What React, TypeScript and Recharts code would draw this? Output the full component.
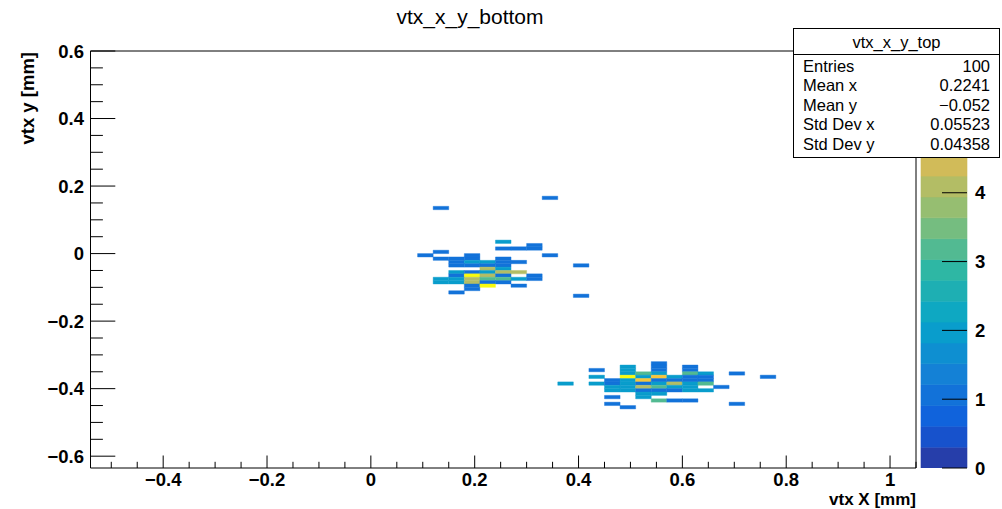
import React from 'react';
import { ScatterChart, Scatter, XAxis, YAxis, ReferenceArea, BarChart, Bar } from 'recharts';

const FONT = '"Liberation Sans", Arial, Helvetica, sans-serif';
const LABEL_SIZE = 18.5;

// histogram binning (mm)
const X_BIN = 0.03;
const Y_BIN = 0.01;
const X_RANGE: [number, number] = [-0.54, 1.05];
const Y_RANGE: [number, number] = [-0.635, 0.6];

// colour scale: 20 contour levels, counts 0..6
const Z_LEVELS = 20;
const Z_TOP_COUNT = 6;
const Z_MAX = 6.06;
const Z_TICKS = [0, 1, 2, 3, 4];

// [x low edge, y low edge, entries]
const bottomCells: [number, number, number][] = [
  [0.36, -0.39, 2],
  [0.42, -0.35, 1], [0.42, -0.37, 2], [0.42, -0.39, 2],
  [0.45, -0.38, 1], [0.45, -0.39, 1], [0.45, -0.40, 2], [0.45, -0.41, 2], [0.45, -0.43, 1], [0.45, -0.45, 1],
  [0.48, -0.34, 2], [0.48, -0.35, 2], [0.48, -0.36, 2], [0.48, -0.37, 6], [0.48, -0.38, 2], [0.48, -0.39, 2],
  [0.48, -0.40, 2], [0.48, -0.41, 2], [0.48, -0.46, 1],
  [0.51, -0.36, 3], [0.51, -0.37, 2], [0.51, -0.38, 5], [0.51, -0.39, 1], [0.51, -0.40, 4], [0.51, -0.41, 1],
  [0.51, -0.42, 2], [0.51, -0.43, 2],
  [0.54, -0.33, 1], [0.54, -0.34, 1], [0.54, -0.35, 1], [0.54, -0.36, 2], [0.54, -0.37, 5], [0.54, -0.38, 1],
  [0.54, -0.39, 2], [0.54, -0.40, 3], [0.54, -0.41, 1], [0.54, -0.42, 2], [0.54, -0.44, 3],
  [0.57, -0.37, 2], [0.57, -0.38, 1], [0.57, -0.39, 4], [0.57, -0.40, 2], [0.57, -0.41, 1], [0.57, -0.44, 1],
  [0.60, -0.34, 1], [0.60, -0.35, 1], [0.60, -0.36, 3], [0.60, -0.37, 1], [0.60, -0.38, 1], [0.60, -0.39, 2],
  [0.60, -0.40, 2], [0.60, -0.41, 2], [0.60, -0.44, 1],
  [0.63, -0.36, 2], [0.63, -0.37, 1], [0.63, -0.38, 1], [0.63, -0.39, 3], [0.63, -0.41, 2],
  [0.66, -0.40, 1],
  [0.69, -0.36, 1], [0.69, -0.45, 1],
  [0.75, -0.37, 1],
];

const topCells: [number, number, number][] = [
  [0.12, 0.13, 1], [0.33, 0.16, 1],
  [0.24, 0.03, 2],
  [0.30, 0.02, 1],
  [0.24, 0.01, 1], [0.27, 0.01, 1], [0.30, 0.01, 1],
  [0.12, 0.00, 1],
  [0.09, -0.01, 1], [0.18, -0.01, 1], [0.33, -0.01, 1],
  [0.12, -0.02, 1], [0.15, -0.02, 1], [0.18, -0.02, 1], [0.24, -0.02, 1],
  [0.15, -0.03, 1], [0.18, -0.03, 2], [0.21, -0.03, 2], [0.24, -0.03, 1], [0.27, -0.03, 1],
  [0.15, -0.04, 1], [0.18, -0.04, 1], [0.21, -0.04, 1], [0.24, -0.04, 1], [0.39, -0.04, 1],
  [0.21, -0.05, 4], [0.24, -0.05, 2],
  [0.15, -0.06, 2], [0.18, -0.06, 1], [0.21, -0.06, 2], [0.24, -0.06, 4], [0.27, -0.06, 4],
  [0.15, -0.07, 1], [0.18, -0.07, 6], [0.21, -0.07, 4], [0.24, -0.07, 1], [0.30, -0.07, 1],
  [0.12, -0.08, 2], [0.15, -0.08, 2], [0.18, -0.08, 4], [0.21, -0.08, 3], [0.24, -0.08, 3], [0.27, -0.08, 2],
  [0.30, -0.08, 1],
  [0.12, -0.09, 2], [0.15, -0.09, 2], [0.18, -0.09, 4], [0.21, -0.09, 1], [0.24, -0.09, 1],
  [0.18, -0.10, 1], [0.21, -0.10, 6], [0.27, -0.10, 1],
  [0.18, -0.11, 1],
  [0.15, -0.12, 1], [0.39, -0.13, 1],
];

const statsTitle = 'vtx_x_y_top';
const statsRows: [string, string][] = [
  ['Entries', '100'],
  ['Mean x', '0.2241'],
  ['Mean y', '\u22120.052'],
  ['Std Dev x', '0.05523'],
  ['Std Dev y', '0.04358'],
];

const stepTicks = (from: number, to: number, step: number) => {
  const out: number[] = [];
  const n = Math.round((to - from) / step);
  for (let i = 0; i <= n; i++) out.push(Math.round((from + i * step) * 1000) / 1000);
  return out;
};
const X_TICKS = stepTicks(-0.5, 1.05, 0.05);
const Y_TICKS = stepTicks(-0.6, 0.6, 0.05);

// ROOT kBird palette
const BIRD_STOPS = [0.0, 0.125, 0.25, 0.375, 0.5, 0.625, 0.75, 0.875, 1.0];
const BIRD_R = [0.2082, 0.0592, 0.078, 0.0232, 0.1802, 0.5301, 0.8186, 0.9956, 0.9764];
const BIRD_G = [0.1664, 0.3599, 0.5041, 0.6419, 0.7178, 0.7492, 0.7328, 0.7862, 0.9832];
const BIRD_B = [0.5293, 0.8684, 0.8385, 0.7914, 0.6425, 0.4662, 0.3499, 0.1968, 0.0539];

function bird(f: number) {
  const t = Math.max(0, Math.min(1, f));
  let i = 0;
  while (i < BIRD_STOPS.length - 2 && t > BIRD_STOPS[i + 1]) i++;
  const u = (t - BIRD_STOPS[i]) / (BIRD_STOPS[i + 1] - BIRD_STOPS[i]);
  const c = (a: number[]) => Math.round(255 * (a[i] + (a[i + 1] - a[i]) * u));
  return `rgb(${c(BIRD_R)},${c(BIRD_G)},${c(BIRD_B)})`;
}
const levelColor = (level: number) => bird((level + 1) / Z_LEVELS);
const cellColor = (n: number) =>
  levelColor(Math.min(Z_LEVELS - 1, Math.floor((n * Z_LEVELS) / Z_TOP_COUNT + 1e-9)));

const allCells = [...bottomCells, ...topCells];
const centers = allCells.map(([x, y, n]) => ({ x: x + X_BIN / 2, y: y + Y_BIN / 2, n }));

const zRow: Record<string, number | string> = { name: 'z' };
for (let i = 0; i < Z_LEVELS; i++) zRow[`b${i}`] = Z_MAX / Z_LEVELS;
const zData = [zRow];

const isMajor = (v: number) => Math.abs(v / 0.2 - Math.round(v / 0.2)) < 1e-6;
const fmt = (v: number) => {
  const r = Math.round(v * 10) / 10;
  return (r === 0 ? '0' : String(r)).replace('-', '\u2212');
};

const XTick = (props: any) => {
  const { x, y, payload } = props;
  const major = isMajor(payload.value);
  return (
    <g>
      <line x1={x} x2={x} y1={y} y2={y - (major ? 12.5 : 6.2)} stroke="#000" strokeWidth={1} />
      {major && (
        <text x={x} y={y + 17.5} textAnchor="middle" fontSize={LABEL_SIZE} fontWeight="bold" fontFamily={FONT} fill="#000">
          {fmt(payload.value)}
        </text>
      )}
    </g>
  );
};

const YTick = (props: any) => {
  const { x, y, payload } = props;
  const major = isMajor(payload.value);
  return (
    <g>
      <line x1={x} x2={x + (major ? 24.8 : 12.4)} y1={y} y2={y} stroke="#000" strokeWidth={1} />
      {major && (
        <text x={x - 6.5} y={y + 6.5} textAnchor="end" fontSize={LABEL_SIZE} fontWeight="bold" fontFamily={FONT} fill="#000">
          {fmt(payload.value)}
        </text>
      )}
    </g>
  );
};

const ZTick = (props: any) => {
  const { x, y, payload } = props;
  return (
    <g>
      <line x1={x - 25} x2={x} y1={y} y2={y} stroke="#000" strokeWidth={1} />
      <text x={x + 8} y={y + 6.5} textAnchor="start" fontSize={LABEL_SIZE} fontWeight="bold" fontFamily={FONT} fill="#000">
        {payload.value}
      </text>
    </g>
  );
};

export default function App() {
  return (
    <div style={{ position: 'absolute', left: 0, top: 0, width: 1002, height: 509, background: '#fff' }}>
      <div style={{ position: 'absolute', left: 0, top: 0 }}>
        <ScatterChart width={1002} height={509} margin={{ top: 51, right: 86, bottom: 0, left: 0 }}>
          <XAxis
            type="number"
            dataKey="x"
            domain={X_RANGE}
            ticks={X_TICKS}
            interval={0}
            allowDataOverflow
            height={41}
            axisLine={false}
            tickLine={false}
            tickSize={0}
            tickMargin={0}
            tick={(p: any) => <XTick {...p} />}
          />
          <YAxis
            type="number"
            dataKey="y"
            domain={Y_RANGE}
            ticks={Y_TICKS}
            interval={0}
            allowDataOverflow
            width={90.5}
            axisLine={false}
            tickLine={false}
            tickSize={0}
            tickMargin={0}
            tick={(p: any) => <YTick {...p} />}
          />
          {allCells.map(([x, y, n], i) => (
            <ReferenceArea
              key={i}
              x1={x}
              x2={x + X_BIN}
              y1={y}
              y2={y + Y_BIN}
              fill={cellColor(n)}
              fillOpacity={1}
              stroke={cellColor(n)}
              strokeWidth={0.4}
              ifOverflow="visible"
            />
          ))}
          <ReferenceArea
            x1={X_RANGE[0]}
            x2={X_RANGE[1]}
            y1={Y_RANGE[0]}
            y2={Y_RANGE[1]}
            fill="none"
            fillOpacity={0}
            stroke="#000"
            strokeWidth={1}
            ifOverflow="visible"
          />
          <Scatter data={centers} isAnimationActive={false} shape={() => <g />} />
        </ScatterChart>
      </div>

      <div style={{ position: 'absolute', left: 900, top: 0 }}>
        <BarChart
          width={102}
          height={509}
          data={zData}
          margin={{ top: 51, right: 0, bottom: 41, left: 21 }}
          barCategoryGap={0}
          barGap={0}
        >
          <XAxis dataKey="name" hide />
          <YAxis
            orientation="right"
            type="number"
            domain={[0, Z_MAX]}
            allowDataOverflow
            ticks={Z_TICKS}
            interval={0}
            width={35}
            axisLine={false}
            tickLine={false}
            tickSize={0}
            tickMargin={0}
            tick={(p: any) => <ZTick {...p} />}
          />
          {Array.from({ length: Z_LEVELS }, (_, i) => (
            <Bar
              key={i}
              dataKey={`b${i}`}
              stackId="z"
              fill={levelColor(i)}
              stroke={levelColor(i)}
              strokeWidth={0.6}
              isAnimationActive={false}
            />
          ))}
        </BarChart>
      </div>

      <svg width={1002} height={509} style={{ position: 'absolute', left: 0, top: 0, pointerEvents: 'none' }}>
        <text x={470} y={24} textAnchor="middle" fontSize={21} fontFamily={FONT} fill="#000">
          vtx_x_y_bottom
        </text>
        <text x={916} y={505} textAnchor="end" fontSize={17} fontWeight="bold" fontFamily={FONT} fill="#000">
          vtx X [mm]
        </text>
        <text
          x={34}
          y={52}
          transform="rotate(-90 34 52)"
          textAnchor="end"
          fontSize={LABEL_SIZE}
          fontWeight="bold"
          fontFamily={FONT}
          fill="#000"
        >
          vtx y [mm]
        </text>

        <rect x={793.5} y={28.5} width={206} height={129} fill="#fff" stroke="#000" strokeWidth={1} />
        <line x1={793.5} x2={999.5} y1={54.5} y2={54.5} stroke="#000" strokeWidth={1} />
        <text x={896.5} y={48} textAnchor="middle" fontSize={16.5} fontFamily={FONT} fill="#000">
          {statsTitle}
        </text>
        {statsRows.map(([label, value], i) => (
          <g key={label}>
            <text x={803} y={72 + i * 19.4} fontSize={16.5} fontFamily={FONT} fill="#000">
              {label}
            </text>
            <text x={990} y={72 + i * 19.4} textAnchor="end" fontSize={16.5} fontFamily={FONT} fill="#000">
              {value}
            </text>
          </g>
        ))}
      </svg>
    </div>
  );
}
